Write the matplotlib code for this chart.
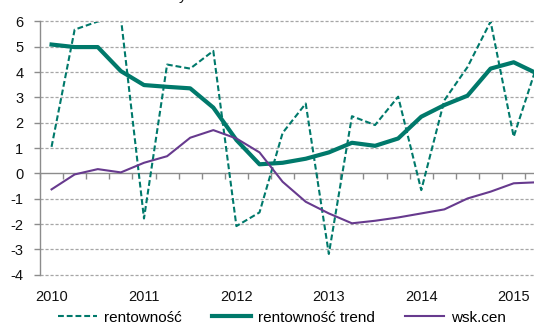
import matplotlib
matplotlib.use("Agg")
import matplotlib.pyplot as plt
from matplotlib.lines import Line2D
import numpy as np

plt.rcParams['font.family'] = ['Liberation Sans', 'DejaVu Sans']

# quarterly series, 2010Q1 .. 2015Q2
quarters = [f"{y}Q{q}" for y in range(2010, 2016) for q in range(1, 5)][:22]
year_labels = ["2010", "2011", "2012", "2013", "2014", "2015"]

rentownosc = [1.05, 5.68, 6.0, 6.15, -1.78, 4.30, 4.14, 4.84, -2.08, -1.54, 1.6,
              2.76, -3.18, 2.26, 1.91, 3.03, -0.66, 2.89, 4.2, 6.0, 1.45, 4.25]
rentownosc_trend = [5.09, 4.99, 4.99, 4.04, 3.49, 3.42, 3.36, 2.6, 1.32, 0.36, 0.42,
                    0.58, 0.83, 1.21, 1.09, 1.38, 2.24, 2.70, 3.07, 4.14, 4.39, 3.95]
wsk_cen = [-0.63, -0.04, 0.17, 0.04, 0.42, 0.68, 1.41, 1.71, 1.38, 0.83, -0.33,
           -1.12, -1.58, -1.97, -1.87, -1.74, -1.58, -1.42, -0.99, -0.72, -0.39, -0.35]

TEAL = "#00796B"
PURPLE = "#673A8E"
GRID = "#A6A6A6"
AXIS = "#8C8C8C"
DASH = (0, (2.8, 1.4))

W, H = 534, 327
fig = plt.figure(figsize=(W / 100, H / 100), dpi=100)
left, right, top, bottom = 40, 534, 21.5, 274.7
ax = fig.add_axes([left / W, (H - bottom) / H, (right - left) / W, (bottom - top) / H])

x = np.arange(len(quarters))
ax.plot(x, rentownosc, color=TEAL, lw=1.5, ls=DASH, label="rentowność")
ax.plot(x, rentownosc_trend, color=TEAL, lw=3.0, solid_joinstyle="round",
        label="rentowność trend")
ax.plot(x, wsk_cen, color=PURPLE, lw=1.5, label="wsk.cen")

ax.set_ylim(-4, 6)
ax.set_xlim(-0.5, (right - 51.7) / 23.1)

# horizontal dashed grid
yt = np.arange(-4, 7, 1)
ax.set_yticks(yt)
ax.set_yticklabels([str(v) for v in yt])
for v in yt:
    if v != 0:
        ax.axhline(v, color=GRID, lw=0.9, ls=(0, (2.5, 1.5)), zorder=0.5, clip_on=False)

# spines
for s in ("top", "right", "bottom"):
    ax.spines[s].set_visible(False)
ax.spines["left"].set_color(AXIS)
ax.spines["left"].set_linewidth(1.0)
ax.tick_params(axis="y", length=4, width=1.0, color=AXIS, pad=8,
               labelsize=10.5, labelcolor="#111111")

# year labels along the bottom, centred on the first quarter of each year
ax.set_xticks(np.arange(0, 24, 4))
ax.set_xticklabels(year_labels)
ax.tick_params(axis="x", length=0, pad=11, labelsize=10.5, labelcolor="#111111")

# category axis crossing at zero with quarter ticks
sec = ax.secondary_xaxis(0.4)
sec.set_xticks(np.arange(-0.5, 21, 1))
sec.set_xticklabels([])
sec.tick_params(axis="x", direction="out", length=4, width=1.0, color=AXIS)
sec.spines["bottom"].set_color(AXIS)
sec.spines["bottom"].set_linewidth(1.0)

# title line running above the visible area
fig.text(183 / W, 1 + 0.3 / H, "y", ha="center", va="baseline", fontsize=11,
         color="#111111")

handles = [
    Line2D([], [], color=TEAL, lw=1.5, ls=DASH),
    Line2D([], [], color=TEAL, lw=3.0),
    Line2D([], [], color=PURPLE, lw=1.5),
]
fig.legend(handles, ["rentowność", "rentowność trend", "wsk.cen"],
           loc="center", bbox_to_anchor=(282 / W, 9.5 / H), ncol=3, frameon=False,
           fontsize=11, handlelength=2.55, handletextpad=0.45, columnspacing=2.0,
           borderpad=0, borderaxespad=0)

fig.savefig("out.png", dpi=100)
